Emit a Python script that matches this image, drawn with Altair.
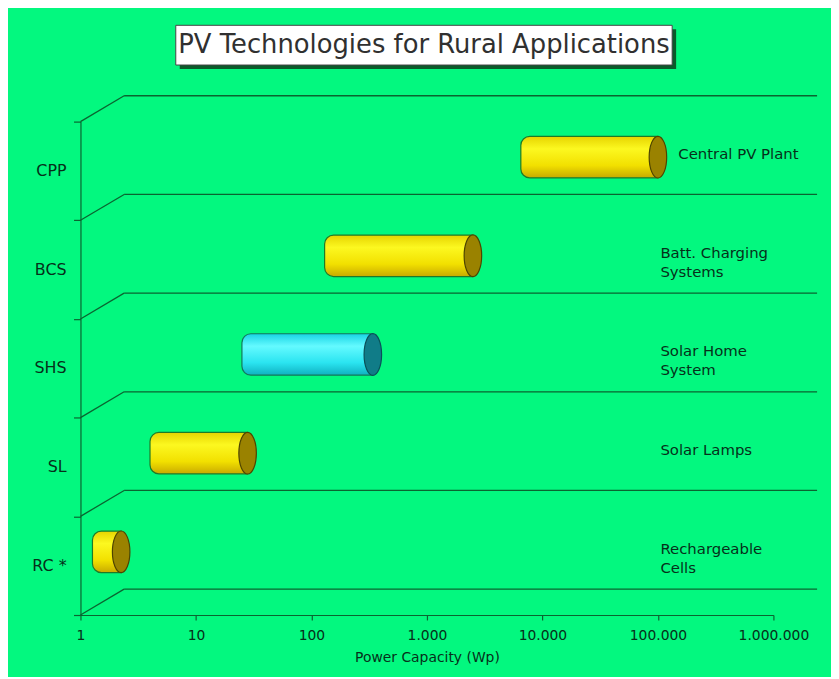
import altair as alt
import numpy as np
import pandas as pd

# ---------------- data ----------------
TITLE = "PV Technologies for Rural Applications"
X_TITLE = "Power Capacity (Wp)"
codes = ["CPP", "BCS", "SHS", "SL", "RC *"]
names = ["Central PV Plant", "Batt. Charging\nSystems", "Solar Home\nSystem",
         "Solar Lamps", "Rechargeable\nCells"]
low_wp = [6500, 130, 25, 4, 1.27]
high_wp = [100000, 2500, 340, 28, 2.25]
tick_values = [1, 10, 100, 1000, 10000, 100000, 1000000]
highlight = "SHS"

# ---------------- styling ----------------
BG = "#03F87F"
LINE = "#0b6430"
TEXT = "#06301a"
FONT = "DejaVu Sans"
W, H = 698, 497
n = len(codes)
DEPTH_X = 0.378   # 3D depth, in decades
DEPTH_Y = 0.262   # 3D depth, in band units
MID = 0.14        # bars sit half way into the depth
HALF = 0.21       # half thickness of a cylinder, band units

df = pd.DataFrame({"code": codes, "name": names, "lo": low_wp, "hi": high_wp})
df["yc"] = [n - 1 - i + 0.5 for i in range(n)]
df["yb"] = df["yc"] + MID
df["y0"] = df["yb"] - HALF
df["y1"] = df["yb"] + HALF
df["lx"] = np.maximum(df["hi"] * 1.5, 1.05e5)

k = np.arange(n + 1, dtype=float)
wall = pd.DataFrame({"x": 10 ** DEPTH_X, "x2": tick_values[-1] * 10 ** DEPTH_X,
                     "y": k + DEPTH_Y, "y2": k + DEPTH_Y})
diag = pd.DataFrame({"x": float(tick_values[0]), "x2": 10 ** DEPTH_X,
                     "y": k, "y2": k + DEPTH_Y})
lines = pd.concat([wall, diag], ignore_index=True)

xscale = alt.Scale(type="log", domain=[tick_values[0], tick_values[-1]], nice=False)
yscale = alt.Scale(domain=[0, n], nice=False, zero=False)
xaxis = alt.Axis(values=tick_values, grid=False, title=X_TITLE,
                 labelExpr="replace(format(datum.value, ',d'), regexp(',', 'g'), '.')",
                 labelFlush=False, labelFont=FONT, labelFontSize=14, labelColor=TEXT,
                 labelPadding=9, tickSize=5, tickColor=LINE, domainColor=LINE,
                 domainWidth=1.2, tickWidth=1.2,
                 titleFont=FONT, titleFontSize=14, titleFontWeight="normal",
                 titleColor=TEXT, titlePadding=8)
yaxis = alt.Axis(values=list(range(n + 1)), grid=False, labels=False, title=None,
                 tickSize=7, tickColor=LINE, domainColor=LINE,
                 domainWidth=1.2, tickWidth=1.2)

X = lambda f: alt.X(f, type="quantitative", scale=xscale, axis=xaxis)
Y = lambda f: alt.Y(f, type="quantitative", scale=yscale, axis=yaxis)

wall_layer = alt.Chart(lines).mark_rule(color=LINE, strokeWidth=1.3).encode(
    x=X("x"), x2="x2", y=Y("y"), y2="y2")


def grad(c0, c1, c2, c3):
    return alt.LinearGradient(
        gradient="linear", x1=0, x2=0, y1=0, y2=1,
        stops=[alt.GradientStop(color=c0, offset=0),
               alt.GradientStop(color=c1, offset=0.3),
               alt.GradientStop(color=c2, offset=0.7),
               alt.GradientStop(color=c3, offset=1)])


CAP = "M0,-1 A0.42,1 0 1,1 0,1 A0.42,1 0 1,1 0,-1 Z"


def cylinders(test, body, edge, cap, capedge):
    base = alt.Chart(df).transform_filter(test)
    b = base.mark_bar(fill=body, stroke=edge, strokeWidth=1.2,
                      cornerRadiusTopLeft=9, cornerRadiusBottomLeft=9).encode(
        x=X("lo"), x2="hi", y=Y("y0"), y2="y1")
    c = base.mark_point(shape=CAP, size=1764, filled=True, fill=cap, stroke=capedge,
                        strokeWidth=1.2, opacity=1).encode(x=X("hi"), y=Y("yb"))
    return b + c


yellow = cylinders(alt.datum.code != highlight,
                   grad("#e6d400", "#fcf820", "#f2e000", "#c8aa00"),
                   "#1f7a28", "#9a8200", "#4e4400")
cyan = cylinders(alt.datum.code == highlight,
                 grad("#18d4e4", "#64faff", "#2ae4f0", "#0fb0c0"),
                 "#127a5a", "#107c88", "#0a5058")

cat_labels = alt.Chart(df).mark_text(
    align="right", baseline="middle", font=FONT, fontSize=16, color=TEXT).encode(
    x=alt.value(-14), y=Y("yc"), text="code:N")

right_labels = alt.Chart(df).mark_text(
    align="left", baseline="middle", font=FONT, fontSize=15, color=TEXT,
    lineBreak="\n", lineHeight=19, dy=-3).encode(
    x=X("lx"), y=Y("yb"), text="name:N")

tdf = pd.DataFrame({"t": [TITLE]})
shadow = alt.Chart(tdf).mark_rect(color="#0a5a2a").encode(
    x=alt.value(100), x2=alt.value(600), y=alt.value(-93), y2=alt.value(-53))
box = alt.Chart(tdf).mark_rect(fill="white", stroke="#444444", strokeWidth=1).encode(
    x=alt.value(96), x2=alt.value(596), y=alt.value(-97), y2=alt.value(-57))
title = alt.Chart(tdf).mark_text(
    align="center", baseline="middle", font=FONT, fontSize=26, color="#303030").encode(
    x=alt.value(346), y=alt.value(-77), text="t:N")

chart = alt.layer(wall_layer, yellow, cyan, cat_labels, right_labels,
                  shadow, box, title).properties(
    width=W, height=H,
    autosize=alt.AutoSizeParams(type="none"),
    padding={"left": 73, "top": 112, "right": 58, "bottom": 60},
    background=BG,
).configure_view(stroke=None)

chart.save("out.html", embed_options={"renderer": "svg", "actions": False})
